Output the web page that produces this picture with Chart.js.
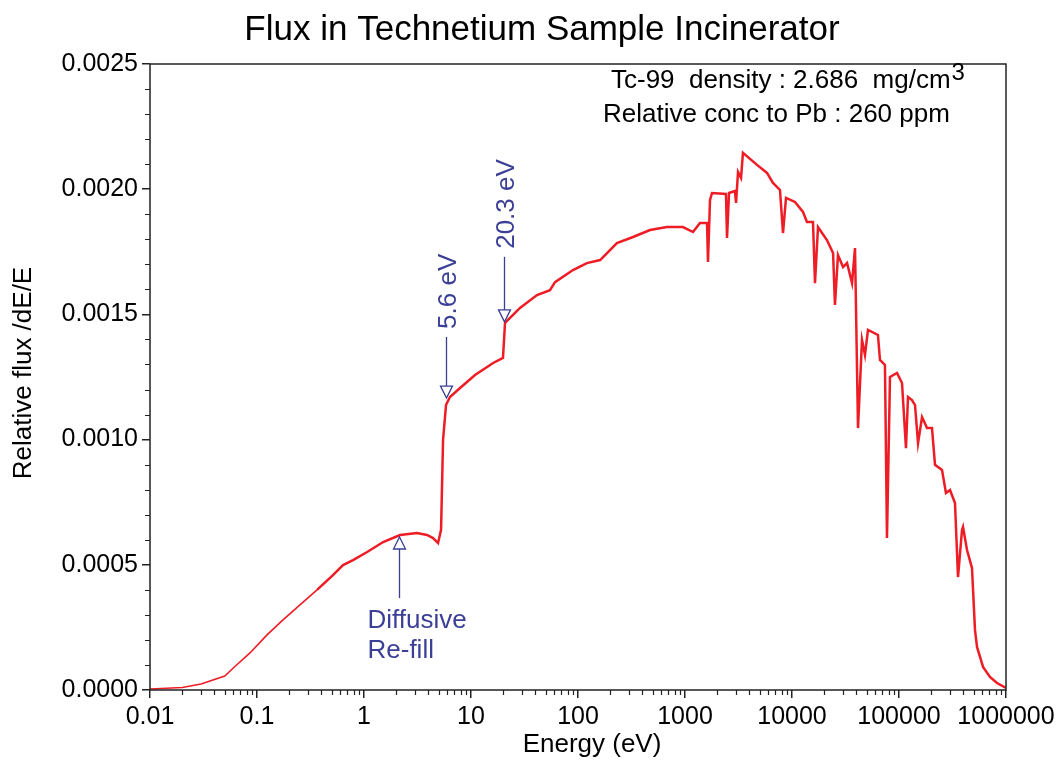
<!DOCTYPE html>
<html lang="en">
<head>
<meta charset="UTF-8">
<title>Flux in Technetium Sample Incinerator</title>
<script src="https://cdn.jsdelivr.net/npm/chart.js@4.4.1/dist/chart.umd.min.js"></script>
<style>
  html, body { margin: 0; padding: 0; background: #fff; }
  #wrap { width: 1064px; height: 760px; position: relative; }
</style>
</head>
<body>
<div id="wrap"><canvas id="chart" width="1064" height="760"></canvas></div>
<script>
// energy (eV) and relative flux
const energy = [0.01, 0.02, 0.03, 0.05, 0.06, 0.086, 0.124, 0.175, 0.252, 0.364, 0.513, 0.637, 0.789, 1.07, 1.51, 2.17, 3.13, 3.88,
  4.42, 4.92, 5.25, 5.48, 5.84,
  6.36, 7.9, 10.9, 16.1, 19.9, 20.8, 28.7, 41.4, 54.7, 61, 89.8, 121, 161, 187, 231, 327, 471, 679, 957, 1188, 1380, 1607, 1640, 1713, 1788,
  2415, 2470, 2580, 2930, 3000, 3130, 3340, 3480, 4710, 5840, 6640, 7720, 8240, 8790, 10660, 12670, 13800, 15710, 16400, 17500,
  21200, 24200, 25200, 26900, 30000, 32700, 36400, 38800, 41400, 45100, 48100, 51300, 63600, 66400, 73900, 77200, 82400, 95800,
  106700, 116200, 121400, 132200, 141200, 150600, 164200, 182800, 203400, 217000, 252300, 274800, 299700, 333600, 356000,
  388100, 396500, 432300, 481000, 513000, 536000, 610000, 708000, 824000, 1000000];
const flux = [0.000004, 0.00001, 0.000024, 0.000056, 0.000088, 0.000148, 0.00022, 0.00028, 0.00034, 0.0004, 0.000459, 0.000499,
  0.000519, 0.000551, 0.000591, 0.000619, 0.000627, 0.000619,
  0.000607, 0.000587, 0.00064, 0.000998, 0.001138,
  0.00117, 0.001206, 0.001258, 0.001306, 0.001326, 0.001466, 0.001526, 0.001577, 0.001597, 0.001629, 0.001677, 0.001705, 0.001717,
  0.001745, 0.001785, 0.001809, 0.001837, 0.001849, 0.001849, 0.001829, 0.001865, 0.001865, 0.001709, 0.001957, 0.001985,
  0.001981, 0.001805, 0.001985, 0.001993, 0.001945, 0.002069, 0.002045, 0.002145, 0.002097, 0.002065, 0.002025, 0.001997,
  0.001825, 0.001965, 0.001949, 0.001909, 0.001869, 0.001869, 0.001625, 0.001849,
  0.001797, 0.001745, 0.001538, 0.001737, 0.001689, 0.001705, 0.001625, 0.001765, 0.001046, 0.001398, 0.001338, 0.001438,
  0.001418, 0.001318, 0.001298, 0.000607, 0.00125, 0.001266,
  0.001226, 0.000966, 0.00117, 0.001158, 0.001138, 0.000986, 0.00109, 0.001046, 0.001046, 0.000899, 0.000879, 0.000787, 0.000799,
  0.000747, 0.000451, 0.000639, 0.000651, 0.000559, 0.000487, 0.00024, 0.000172, 0.000092, 0.000052, 0.000028, 0.000008];

const xTicks = [0.01, 0.1, 1, 10, 100, 1000, 10000, 100000, 1000000];
const xTickLabels = ['0.01', '0.1', '1', '10', '100', '1000', '10000', '100000', '1000000'];
const yTicks = [0, 0.0005, 0.001, 0.0015, 0.002, 0.0025];
const yTickLabels = ['0.0000', '0.0005', '0.0010', '0.0015', '0.0020', '0.0025'];

// arrows: [energy, tip flux, tail flux, label]
const arrows = [
  [5.9, 0.001166, 0.00141, '5.6 eV'],
  [20.3, 0.00147, 0.00173, '20.3 eV'],
  [2.12, 0.000611, 0.000367, 'Diffusive|Re-fill']
];

const FONT = '"Liberation Sans", Arial, Helvetica, sans-serif';
const BLUE = '#3b3f96';
const AXIS = '#222';

// triangle arrow head, hollow
function arrowHead(ctx, x, tipY, dir) {
  // dir = 1 pointing down, -1 pointing up
  ctx.beginPath();
  ctx.moveTo(x, tipY);
  ctx.lineTo(x - 6, tipY - dir * 12);
  ctx.lineTo(x + 6, tipY - dir * 12);
  ctx.closePath();
  ctx.fillStyle = '#fff';
  ctx.fill();
  ctx.stroke();
}

const decor = {
  id: 'decor',
  afterDraw(chart) {
    const ctx = chart.ctx;
    const a = chart.chartArea;
    const xs = chart.scales.x, ys = chart.scales.y;
    ctx.save();

    // frame
    ctx.strokeStyle = AXIS;
    ctx.lineWidth = 1.5;
    ctx.strokeRect(a.left, a.top, a.right - a.left, a.bottom - a.top);

    // minor ticks
    ctx.lineWidth = 1.2;
    ctx.beginPath();
    for (let p = -2; p < 6; p++) {
      for (let k = 2; k < 10; k++) {
        const px = Math.round(xs.getPixelForValue(k * Math.pow(10, p))) + 0.5;
        ctx.moveTo(px, a.bottom);
        ctx.lineTo(px, a.bottom + 5);
      }
    }
    for (let i = 1; i < 25; i++) {
      if (i % 5 === 0) continue;
      const py = Math.round(ys.getPixelForValue(i * 0.0001)) + 0.5;
      ctx.moveTo(a.left - 5, py);
      ctx.lineTo(a.left, py);
    }
    ctx.stroke();

    // title
    ctx.fillStyle = '#000';
    ctx.font = '35px ' + FONT;
    ctx.textAlign = 'center';
    ctx.textBaseline = 'alphabetic';
    ctx.fillText('Flux in Technetium Sample Incinerator', 542, 40);

    // axis titles
    ctx.font = '26px ' + FONT;
    ctx.fillText('Energy (eV)', 592, 752);
    ctx.save();
    ctx.translate(31, 373);
    ctx.rotate(-Math.PI / 2);
    ctx.fillText('Relative flux /dE/E', 0, 0);
    ctx.restore();

    // info text
    ctx.textAlign = 'left';
    ctx.font = '26px ' + FONT;
    const line1 = 'Tc-99  density : 2.686  mg/cm';
    ctx.fillText(line1, 611, 88);
    const w = ctx.measureText(line1).width;
    ctx.font = '24px ' + FONT;
    ctx.fillText('3', 611 + w + 1, 80);
    ctx.font = '26px ' + FONT;
    ctx.fillText('Relative conc to Pb : 260 ppm', 603, 122);

    // annotations
    ctx.strokeStyle = BLUE;
    ctx.fillStyle = BLUE;
    ctx.lineWidth = 1.3;
    arrows.forEach(function (ar) {
      const x = Math.round(xs.getPixelForValue(ar[0])) + 0.5;
      const tip = ys.getPixelForValue(ar[1]);
      const tail = ys.getPixelForValue(ar[2]);
      const dir = tip > tail ? 1 : -1;
      ctx.beginPath();
      ctx.moveTo(x, tail);
      ctx.lineTo(x, tip - dir * 12);
      ctx.stroke();
      arrowHead(ctx, x, tip, dir);
      ctx.fillStyle = BLUE;
      ctx.font = '26px ' + FONT;
      if (dir === 1) {
        ctx.save();
        ctx.translate(x + 9, tail - 8);
        ctx.rotate(-Math.PI / 2);
        ctx.textAlign = 'left';
        ctx.fillText(ar[3], 0, 0);
        ctx.restore();
      } else {
        const parts = ar[3].split('|');
        ctx.textAlign = 'left';
        parts.forEach(function (t, i) {
          ctx.fillText(t, x - 32, tail + 30 + i * 30);
        });
      }
    });
    ctx.restore();
  }
};

const ctx = document.getElementById('chart').getContext('2d');
const points = energy.map(function (e, i) { return { x: e, y: flux[i] }; });

new Chart(ctx, {
  type: 'scatter',
  data: {
    datasets: [{
      label: 'Flux',
      data: points,
      showLine: true,
      borderColor: '#ee1c25',
      borderWidth: 2.5,
      pointRadius: 0,
      tension: 0,
      segment: {
        // thinner trace at the low energy end, like the original
        borderWidth: function (c) { return c.p0.parsed.x < 0.3 ? 1.6 : 2.5; }
      }
    }]
  },
  options: {
    responsive: false,
    animation: false,
    layout: { padding: { left: 0, right: 58, top: 64, bottom: 0 } },
    plugins: {
      legend: { display: false },
      tooltip: { enabled: false }
    },
    scales: {
      x: {
        type: 'logarithmic',
        min: 0.01,
        max: 1000000,
        afterBuildTicks: function (scale) {
          scale.ticks = xTicks.map(function (v) { return { value: v }; });
        },
        afterFit: function (scale) { scale.height = 70; },
        border: { display: false },
        grid: { drawOnChartArea: false, color: AXIS, lineWidth: 1.5, tickLength: 8 },
        ticks: {
          autoSkip: false,
          maxRotation: 0,
          padding: 4,
          color: '#000',
          font: { family: FONT, size: 25 },
          callback: function (v, i) { return xTickLabels[i]; }
        }
      },
      y: {
        min: 0,
        max: 0.0025,
        afterBuildTicks: function (scale) {
          scale.ticks = yTicks.map(function (v) { return { value: v }; });
        },
        afterFit: function (scale) { scale.width = 150; },
        border: { display: false },
        grid: { drawOnChartArea: false, color: AXIS, lineWidth: 1.5, tickLength: 8 },
        ticks: {
          padding: 4,
          color: '#000',
          font: { family: FONT, size: 25 },
          callback: function (v, i) { return yTickLabels[i]; }
        }
      }
    }
  },
  plugins: [decor]
});
</script>
</body>
</html>
